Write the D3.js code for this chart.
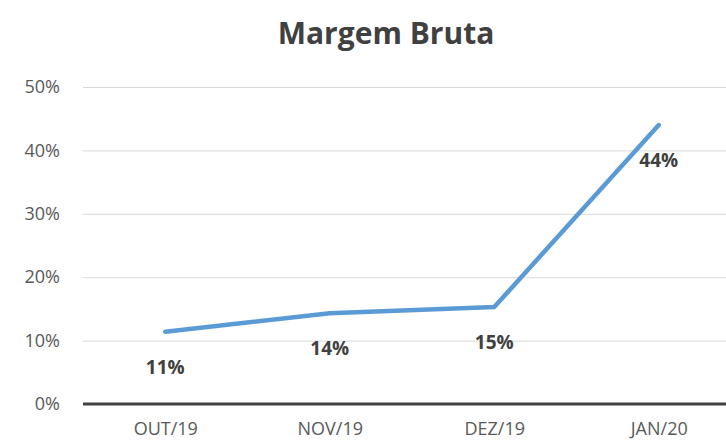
<!DOCTYPE html>
<html>
<head>
<meta charset="utf-8">
<script src="https://cdn.jsdelivr.net/npm/d3@7"></script>
<style>
  body { margin: 0; background: #fff; }
  svg { display: block; font-family: "Open Sans", sans-serif; }
</style>
</head>
<body>
<svg id="chart" width="726" height="444"></svg>
<script>
// chart data
const months = ['OUT/19', 'NOV/19', 'DEZ/19', 'JAN/20'];
const margins = [0.114, 0.143, 0.153, 0.44];
const yTicks = [0, 0.1, 0.2, 0.3, 0.4, 0.5];

const svg = d3.select('#chart');
const font = '"Open Sans", sans-serif';

// scales (the plot runs past the right edge of the picture)
const x = d3.scalePoint()
  .domain(months)
  .range([83, 741])
  .padding(0.5);

const y = d3.scaleLinear()
  .domain([0, 0.5])
  .range([404, 87]);

const pct = d3.format('.0%');

// gridlines
const yAxis = d3.axisLeft(y)
  .tickValues(yTicks)
  .tickFormat(pct)
  .tickSize(-(726 - 83))
  .tickPadding(23);

const gY = svg.append('g')
  .attr('transform', 'translate(83,0)')
  .call(yAxis)
  .attr('font-family', font);

gY.select('.domain').remove();
gY.selectAll('.tick line')
  .attr('stroke', '#d9d9d9')
  .attr('stroke-width', 1);
gY.selectAll('.tick text')
  .attr('fill', '#595959')
  .attr('font-size', 18);

// baseline at 0%
svg.append('line')
  .attr('x1', 83)
  .attr('x2', 726)
  .attr('y1', y(0))
  .attr('y2', y(0))
  .attr('stroke', '#404040')
  .attr('stroke-width', 3);

// x axis labels
const xAxis = d3.axisBottom(x).tickSize(0).tickPadding(18);
const gX = svg.append('g')
  .attr('transform', `translate(0,${y(0)})`)
  .call(xAxis)
  .attr('font-family', font);
gX.select('.domain').remove();
gX.selectAll('.tick text')
  .attr('fill', '#595959')
  .attr('font-size', 18);

// line
const line = d3.line()
  .x((d, i) => x(months[i]))
  .y(d => y(d));

svg.append('path')
  .datum(margins)
  .attr('d', line)
  .attr('fill', 'none')
  .attr('stroke', '#5b9bd5')
  .attr('stroke-width', 4.5)
  .attr('stroke-linejoin', 'round')
  .attr('stroke-linecap', 'round');

// data labels, below each point
svg.append('g')
  .selectAll('text')
  .data(margins)
  .join('text')
  .attr('x', (d, i) => x(months[i]))
  .attr('y', d => y(d) + 42)
  .attr('text-anchor', 'middle')
  .attr('font-size', 19)
  .attr('font-weight', 'bold')
  .attr('fill', '#404040')
  .text(d => pct(d));

// title
svg.append('text')
  .attr('x', 386)
  .attr('y', 44)
  .attr('text-anchor', 'middle')
  .attr('font-size', 30)
  .attr('font-weight', 'bold')
  .attr('fill', '#404040')
  .text('Margem Bruta');
</script>
</body>
</html>
